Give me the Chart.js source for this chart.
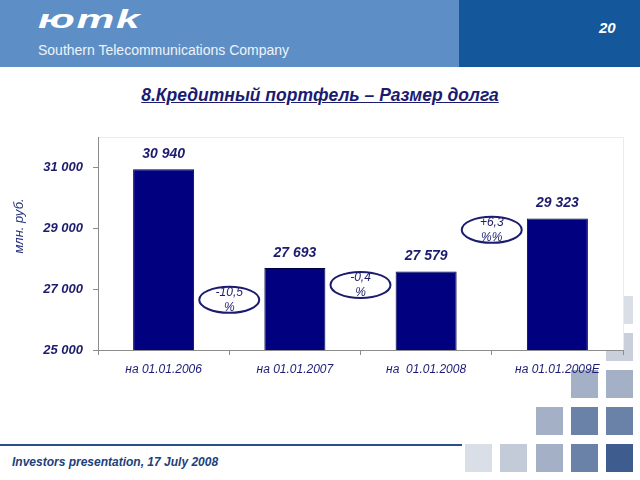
<!DOCTYPE html>
<html>
<head>
<meta charset="utf-8">
<script src="https://cdn.jsdelivr.net/npm/chart.js@4.4.1/dist/chart.umd.min.js"></script>
<style>
  html, body { margin: 0; padding: 0; background: #fff; }
  #page { position: relative; width: 640px; height: 480px; overflow: hidden; font-family: "Liberation Sans", Arial, sans-serif; }
  .band { position: absolute; top: 0; height: 67px; }
  .sq { position: absolute; width: 27px; height: 28px; }
  #c { position: absolute; left: 0; top: 0; }
</style>
</head>
<body>
<div id="page">
  <!-- шапка -->
  <div class="band" style="left:0;width:459px;background:#5d8fc6;"></div>
  <div class="band" style="left:459px;width:181px;background:#14579a;"></div>
  <div style="position:absolute;left:38px;top:5px;color:#fff;font:italic bold 25px 'Liberation Sans',Arial,sans-serif;letter-spacing:1px;transform:scaleX(1.7);transform-origin:left top;">юmk</div>
  <div style="position:absolute;left:38px;top:42px;color:#eef3f9;font:14px 'Liberation Sans',Arial,sans-serif;">Southern Telecommunications Company</div>
  <div style="position:absolute;left:599px;top:19px;color:#fff;font:italic bold 15px 'Liberation Sans',Arial,sans-serif;">20</div>
  <div style="position:absolute;left:0;width:640px;top:85px;text-align:center;color:#1b1b72;font:italic bold 17.5px 'Liberation Sans',Arial,sans-serif;text-decoration:underline;">8.Кредитный портфель – Размер долга</div>

  <!-- декоративные квадраты -->
  <div class="sq" style="left:606px;top:296px;background:#dadee6;"></div>
  <div class="sq" style="left:606px;top:333px;background:#c9cfdb;"></div>
  <div class="sq" style="left:571px;top:370px;background:#a3b0c6;"></div>
  <div class="sq" style="left:606px;top:370px;background:#a3b0c6;"></div>
  <div class="sq" style="left:536px;top:407px;background:#a3b0c6;"></div>
  <div class="sq" style="left:571px;top:407px;background:#6a81a8;"></div>
  <div class="sq" style="left:606px;top:407px;background:#6a81a8;"></div>
  <div class="sq" style="left:465px;top:444px;background:#d9dee7;"></div>
  <div class="sq" style="left:500px;top:444px;background:#c3cad8;"></div>
  <div class="sq" style="left:536px;top:444px;background:#a3b0c6;"></div>
  <div class="sq" style="left:571px;top:444px;background:#6a81a8;"></div>
  <div class="sq" style="left:606px;top:444px;background:#3e5d8e;"></div>

  <!-- подвал -->
  <div style="position:absolute;left:0;top:444px;width:462px;height:2px;background:#2b4e8c;"></div>
  <div style="position:absolute;left:12px;top:455px;color:#203f7c;font:italic bold 12px 'Liberation Sans',Arial,sans-serif;">Investors presentation, 17 July 2008</div>

  <canvas id="c" width="640" height="480"></canvas>
</div>

<script>
// Данные
const categories = ['на 01.01.2006', 'на 01.01.2007', 'на  01.01.2008', 'на 01.01.2009E'];
const debt = [30940, 27693, 27579, 29323];
const yTicks = [25000, 27000, 29000, 31000];
// изменения между датами (текст в овалах) и их уровень по оси Y
const changeText = [['-10,5', '%'], ['-0,4', '%'], ['+6,3', '%%']];
const changeY = [26650, 27140, 28950];

const navy = '#1c1c6e';
const fmt = v => String(v).replace(/\B(?=(\d{3})+(?!\d))/g, ' ');

Chart.defaults.font.family = '"Liberation Sans", Arial, sans-serif';

// белая область графика с тонкой рамкой
const plotBg = {
    id: 'plotBg',
    beforeDraw(chart) {
        const { ctx, chartArea: a } = chart;
        ctx.save();
        ctx.fillStyle = '#fff';
        ctx.fillRect(a.left, a.top, a.right - a.left, a.bottom - a.top);
        ctx.strokeStyle = '#ebebeb';
        ctx.lineWidth = 1;
        ctx.beginPath();
        ctx.moveTo(a.left, a.top + 0.5);
        ctx.lineTo(a.right + 0.5, a.top + 0.5);
        ctx.lineTo(a.right + 0.5, a.bottom);
        ctx.stroke();
        ctx.restore();
    }
};

// подписи значений, овалы с процентами и подпись оси
const extras = {
    id: 'extras',
    afterDatasetsDraw(chart) {
        const { ctx } = chart;
        const x = chart.scales.x, y = chart.scales.y;
        ctx.save();
        ctx.fillStyle = navy;
        ctx.textAlign = 'center';
        ctx.textBaseline = 'middle';
        ctx.font = 'italic bold 14px "Liberation Sans", Arial, sans-serif';
        chart.getDatasetMeta(0).data.forEach((bar, i) => {
            ctx.fillText(fmt(debt[i]), bar.x, bar.y - 15);
        });

        ctx.font = 'italic 12px "Liberation Sans", Arial, sans-serif';
        changeText.forEach((lines, i) => {
            const cx = x.getPixelForValue(i + 0.5);
            const cy = y.getPixelForValue(changeY[i]);
            ctx.beginPath();
            ctx.ellipse(cx, cy, 30, 13, 0, 0, Math.PI * 2);
            ctx.fillStyle = '#fff';
            ctx.fill();
            ctx.lineWidth = 2;
            ctx.strokeStyle = navy;
            ctx.stroke();
            ctx.fillStyle = navy;
            ctx.fillText(lines[0], cx, cy - 7);
            ctx.fillText(lines[1], cx, cy + 8);
        });

        ctx.translate(19, 226);
        ctx.rotate(-Math.PI / 2);
        ctx.font = 'italic 13px "Liberation Sans", Arial, sans-serif';
        ctx.fillStyle = '#22307a';
        ctx.fillText('млн. руб.', 0, 0);
        ctx.restore();
    }
};

new Chart(document.getElementById('c'), {
    type: 'bar',
    data: {
        labels: categories,
        datasets: [{
            data: debt,
            backgroundColor: '#010180',
            borderColor: '#000040',
            borderWidth: 1,
            barPercentage: 0.465,
            categoryPercentage: 1
        }]
    },
    options: {
        responsive: false,
        animation: false,
        layout: { padding: { top: 137, right: 17, bottom: 90, left: 0 } },
        plugins: {
            legend: { display: false },
            tooltip: { enabled: false }
        },
        scales: {
            x: {
                afterFit: s => { s.height = 40; },
                grid: { drawOnChartArea: false, tickLength: 5, color: '#8c8c8c' },
                border: { color: '#8c8c8c' },
                ticks: {
                    padding: 7,
                    color: '#1c1c78',
                    font: { size: 12, style: 'italic' }
                }
            },
            y: {
                min: 25000,
                max: 32000,
                afterFit: s => { s.width = 98; },
                afterBuildTicks: s => { s.ticks = yTicks.map(v => ({ value: v })); },
                grid: { drawOnChartArea: false, tickLength: 5, color: '#8c8c8c' },
                border: { color: '#8c8c8c' },
                ticks: {
                    padding: 10,
                    color: navy,
                    font: { size: 13, style: 'italic', weight: 'bold' },
                    callback: v => fmt(v)
                }
            }
        }
    },
    plugins: [plotBg, extras]
});
</script>
</body>
</html>
